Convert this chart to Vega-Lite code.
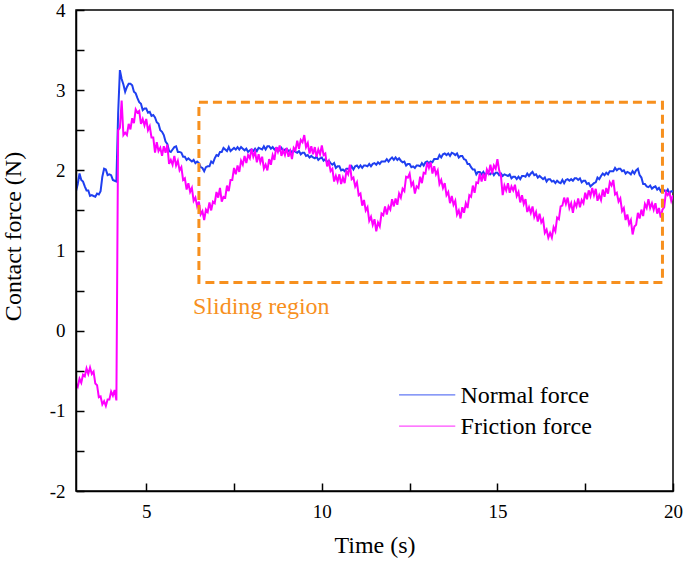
{
"$schema": "https://vega.github.io/schema/vega-lite/v6.json",
"width": 597, "height": 481,
"autosize": {"type": "none"},
"padding": {"left": 76, "top": 10, "right": 12, "bottom": 73},
"background": "white",
"config": {"view": {"stroke": "black", "strokeWidth": 1.5}, "font": "Liberation Serif", "text": {"font": "Liberation Serif"}},
"data": {"values": [
{"t":3.00,"Normal force":1.74,"Friction force":-0.66},
{"t":3.05,"Normal force":1.83,"Friction force":-0.70},
{"t":3.10,"Normal force":1.96,"Friction force":-0.60},
{"t":3.15,"Normal force":1.88,"Friction force":-0.65},
{"t":3.20,"Normal force":1.86,"Friction force":-0.55},
{"t":3.25,"Normal force":1.80,"Friction force":-0.57},
{"t":3.30,"Normal force":1.75,"Friction force":-0.47},
{"t":3.35,"Normal force":1.75,"Friction force":-0.54},
{"t":3.40,"Normal force":1.68,"Friction force":-0.46},
{"t":3.45,"Normal force":1.69,"Friction force":-0.54},
{"t":3.50,"Normal force":1.68,"Friction force":-0.51},
{"t":3.55,"Normal force":1.67,"Friction force":-0.66},
{"t":3.60,"Normal force":1.71,"Friction force":-0.68},
{"t":3.65,"Normal force":1.70,"Friction force":-0.83},
{"t":3.70,"Normal force":1.74,"Friction force":-0.82},
{"t":3.75,"Normal force":1.92,"Friction force":-0.92},
{"t":3.80,"Normal force":2.02,"Friction force":-0.88},
{"t":3.85,"Normal force":2.01,"Friction force":-0.94},
{"t":3.90,"Normal force":1.94,"Friction force":-0.86},
{"t":3.95,"Normal force":1.95,"Friction force":-0.86},
{"t":4.00,"Normal force":1.94,"Friction force":-0.76},
{"t":4.05,"Normal force":1.88,"Friction force":-0.81},
{"t":4.10,"Normal force":1.87,"Friction force":-0.74},
{"t":4.15,"Normal force":1.86,"Friction force":-0.87},
{"t":4.20,"Normal force":2.71,"Friction force":2.50},
{"t":4.25,"Normal force":3.25,"Friction force":2.53},
{"t":4.30,"Normal force":3.14,"Friction force":2.87},
{"t":4.35,"Normal force":3.07,"Friction force":2.44},
{"t":4.40,"Normal force":2.98,"Friction force":2.47},
{"t":4.45,"Normal force":3.04,"Friction force":2.44},
{"t":4.50,"Normal force":3.08,"Friction force":2.58},
{"t":4.55,"Normal force":3.08,"Friction force":2.51},
{"t":4.60,"Normal force":3.06,"Friction force":2.65},
{"t":4.65,"Normal force":2.98,"Friction force":2.59},
{"t":4.70,"Normal force":2.96,"Friction force":2.76},
{"t":4.75,"Normal force":2.90,"Friction force":2.72},
{"t":4.80,"Normal force":2.85,"Friction force":2.74},
{"t":4.85,"Normal force":2.83,"Friction force":2.58},
{"t":4.90,"Normal force":2.75,"Friction force":2.64},
{"t":4.95,"Normal force":2.77,"Friction force":2.56},
{"t":5.00,"Normal force":2.77,"Friction force":2.64},
{"t":5.05,"Normal force":2.72,"Friction force":2.50},
{"t":5.10,"Normal force":2.73,"Friction force":2.55},
{"t":5.15,"Normal force":2.68,"Friction force":2.41},
{"t":5.20,"Normal force":2.69,"Friction force":2.41},
{"t":5.25,"Normal force":2.66,"Friction force":2.22},
{"t":5.30,"Normal force":2.60,"Friction force":2.35},
{"t":5.35,"Normal force":2.58,"Friction force":2.24},
{"t":5.40,"Normal force":2.50,"Friction force":2.28},
{"t":5.45,"Normal force":2.48,"Friction force":2.18},
{"t":5.50,"Normal force":2.44,"Friction force":2.30},
{"t":5.55,"Normal force":2.36,"Friction force":2.22},
{"t":5.60,"Normal force":2.33,"Friction force":2.32},
{"t":5.65,"Normal force":2.24,"Friction force":2.08},
{"t":5.70,"Normal force":2.23,"Friction force":2.13},
{"t":5.75,"Normal force":2.26,"Friction force":2.07},
{"t":5.80,"Normal force":2.29,"Friction force":2.18},
{"t":5.85,"Normal force":2.30,"Friction force":2.06},
{"t":5.90,"Normal force":2.23,"Friction force":2.12},
{"t":5.95,"Normal force":2.23,"Friction force":2.00},
{"t":6.00,"Normal force":2.22,"Friction force":2.04},
{"t":6.05,"Normal force":2.17,"Friction force":1.88},
{"t":6.10,"Normal force":2.17,"Friction force":1.90},
{"t":6.15,"Normal force":2.13,"Friction force":1.76},
{"t":6.20,"Normal force":2.15,"Friction force":1.84},
{"t":6.25,"Normal force":2.13,"Friction force":1.73},
{"t":6.30,"Normal force":2.11,"Friction force":1.78},
{"t":6.35,"Normal force":2.13,"Friction force":1.62},
{"t":6.40,"Normal force":2.09,"Friction force":1.66},
{"t":6.45,"Normal force":2.11,"Friction force":1.55},
{"t":6.50,"Normal force":2.09,"Friction force":1.61},
{"t":6.55,"Normal force":2.04,"Friction force":1.45},
{"t":6.60,"Normal force":2.03,"Friction force":1.49},
{"t":6.65,"Normal force":1.99,"Friction force":1.38},
{"t":6.70,"Normal force":2.04,"Friction force":1.51},
{"t":6.75,"Normal force":2.05,"Friction force":1.48},
{"t":6.80,"Normal force":2.05,"Friction force":1.60},
{"t":6.85,"Normal force":2.11,"Friction force":1.50},
{"t":6.90,"Normal force":2.09,"Friction force":1.61},
{"t":6.95,"Normal force":2.15,"Friction force":1.59},
{"t":7.00,"Normal force":2.19,"Friction force":1.73},
{"t":7.05,"Normal force":2.18,"Friction force":1.66},
{"t":7.10,"Normal force":2.23,"Friction force":1.78},
{"t":7.15,"Normal force":2.23,"Friction force":1.61},
{"t":7.20,"Normal force":2.28,"Friction force":1.67},
{"t":7.25,"Normal force":2.26,"Friction force":1.66},
{"t":7.30,"Normal force":2.24,"Friction force":1.81},
{"t":7.35,"Normal force":2.29,"Friction force":1.74},
{"t":7.40,"Normal force":2.24,"Friction force":1.88},
{"t":7.45,"Normal force":2.26,"Friction force":1.88},
{"t":7.50,"Normal force":2.28,"Friction force":2.03},
{"t":7.55,"Normal force":2.26,"Friction force":1.95},
{"t":7.60,"Normal force":2.29,"Friction force":2.06},
{"t":7.65,"Normal force":2.26,"Friction force":1.98},
{"t":7.70,"Normal force":2.29,"Friction force":2.12},
{"t":7.75,"Normal force":2.27,"Friction force":2.07},
{"t":7.80,"Normal force":2.25,"Friction force":2.18},
{"t":7.85,"Normal force":2.27,"Friction force":2.09},
{"t":7.90,"Normal force":2.23,"Friction force":2.19},
{"t":7.95,"Normal force":2.25,"Friction force":2.15},
{"t":8.00,"Normal force":2.26,"Friction force":2.27},
{"t":8.05,"Normal force":2.24,"Friction force":2.17},
{"t":8.10,"Normal force":2.27,"Friction force":2.23},
{"t":8.15,"Normal force":2.24,"Friction force":2.10},
{"t":8.20,"Normal force":2.28,"Friction force":2.20},
{"t":8.25,"Normal force":2.27,"Friction force":2.10},
{"t":8.30,"Normal force":2.26,"Friction force":2.17},
{"t":8.35,"Normal force":2.30,"Friction force":2.02},
{"t":8.40,"Normal force":2.26,"Friction force":2.07},
{"t":8.45,"Normal force":2.30,"Friction force":2.00},
{"t":8.50,"Normal force":2.30,"Friction force":2.14},
{"t":8.55,"Normal force":2.27,"Friction force":2.07},
{"t":8.60,"Normal force":2.29,"Friction force":2.19},
{"t":8.65,"Normal force":2.26,"Friction force":2.13},
{"t":8.70,"Normal force":2.28,"Friction force":2.29},
{"t":8.75,"Normal force":2.27,"Friction force":2.23},
{"t":8.80,"Normal force":2.25,"Friction force":2.31},
{"t":8.85,"Normal force":2.28,"Friction force":2.18},
{"t":8.90,"Normal force":2.24,"Friction force":2.25},
{"t":8.95,"Normal force":2.26,"Friction force":2.19},
{"t":9.00,"Normal force":2.27,"Friction force":2.28},
{"t":9.05,"Normal force":2.24,"Friction force":2.17},
{"t":9.10,"Normal force":2.25,"Friction force":2.24},
{"t":9.15,"Normal force":2.22,"Friction force":2.14},
{"t":9.20,"Normal force":2.25,"Friction force":2.28},
{"t":9.25,"Normal force":2.23,"Friction force":2.25},
{"t":9.30,"Normal force":2.22,"Friction force":2.37},
{"t":9.35,"Normal force":2.24,"Friction force":2.27},
{"t":9.40,"Normal force":2.20,"Friction force":2.38},
{"t":9.45,"Normal force":2.22,"Friction force":2.35},
{"t":9.50,"Normal force":2.22,"Friction force":2.44},
{"t":9.55,"Normal force":2.18,"Friction force":2.29},
{"t":9.60,"Normal force":2.19,"Friction force":2.34},
{"t":9.65,"Normal force":2.16,"Friction force":2.21},
{"t":9.70,"Normal force":2.18,"Friction force":2.30},
{"t":9.75,"Normal force":2.16,"Friction force":2.20},
{"t":9.80,"Normal force":2.15,"Friction force":2.29},
{"t":9.85,"Normal force":2.17,"Friction force":2.17},
{"t":9.90,"Normal force":2.13,"Friction force":2.26},
{"t":9.95,"Normal force":2.15,"Friction force":2.20},
{"t":10.00,"Normal force":2.16,"Friction force":2.31},
{"t":10.05,"Normal force":2.12,"Friction force":2.19},
{"t":10.10,"Normal force":2.14,"Friction force":2.21},
{"t":10.15,"Normal force":2.10,"Friction force":2.05},
{"t":10.20,"Normal force":2.12,"Friction force":2.11},
{"t":10.25,"Normal force":2.09,"Friction force":1.99},
{"t":10.30,"Normal force":2.07,"Friction force":2.02},
{"t":10.35,"Normal force":2.09,"Friction force":1.86},
{"t":10.40,"Normal force":2.03,"Friction force":1.93},
{"t":10.45,"Normal force":2.05,"Friction force":1.86},
{"t":10.50,"Normal force":2.05,"Friction force":1.95},
{"t":10.55,"Normal force":2.00,"Friction force":1.83},
{"t":10.60,"Normal force":2.01,"Friction force":1.91},
{"t":10.65,"Normal force":1.99,"Friction force":1.84},
{"t":10.70,"Normal force":2.02,"Friction force":1.99},
{"t":10.75,"Normal force":2.02,"Friction force":1.95},
{"t":10.80,"Normal force":2.01,"Friction force":2.07},
{"t":10.85,"Normal force":2.05,"Friction force":1.89},
{"t":10.90,"Normal force":2.01,"Friction force":1.91},
{"t":10.95,"Normal force":2.05,"Friction force":1.80},
{"t":11.00,"Normal force":2.06,"Friction force":1.85},
{"t":11.05,"Normal force":2.03,"Friction force":1.69},
{"t":11.10,"Normal force":2.06,"Friction force":1.71},
{"t":11.15,"Normal force":2.03,"Friction force":1.56},
{"t":11.20,"Normal force":2.06,"Friction force":1.63},
{"t":11.25,"Normal force":2.06,"Friction force":1.50},
{"t":11.30,"Normal force":2.05,"Friction force":1.54},
{"t":11.35,"Normal force":2.08,"Friction force":1.37},
{"t":11.40,"Normal force":2.05,"Friction force":1.42},
{"t":11.45,"Normal force":2.08,"Friction force":1.32},
{"t":11.50,"Normal force":2.09,"Friction force":1.39},
{"t":11.55,"Normal force":2.07,"Friction force":1.24},
{"t":11.60,"Normal force":2.10,"Friction force":1.35},
{"t":11.65,"Normal force":2.08,"Friction force":1.30},
{"t":11.70,"Normal force":2.11,"Friction force":1.46},
{"t":11.75,"Normal force":2.11,"Friction force":1.44},
{"t":11.80,"Normal force":2.11,"Friction force":1.55},
{"t":11.85,"Normal force":2.14,"Friction force":1.45},
{"t":11.90,"Normal force":2.11,"Friction force":1.55},
{"t":11.95,"Normal force":2.14,"Friction force":1.51},
{"t":12.00,"Normal force":2.16,"Friction force":1.64},
{"t":12.05,"Normal force":2.13,"Friction force":1.55},
{"t":12.10,"Normal force":2.16,"Friction force":1.65},
{"t":12.15,"Normal force":2.13,"Friction force":1.57},
{"t":12.20,"Normal force":2.15,"Friction force":1.71},
{"t":12.25,"Normal force":2.12,"Friction force":1.66},
{"t":12.30,"Normal force":2.10,"Friction force":1.77},
{"t":12.35,"Normal force":2.11,"Friction force":1.74},
{"t":12.40,"Normal force":2.06,"Friction force":1.92},
{"t":12.45,"Normal force":2.08,"Friction force":1.91},
{"t":12.50,"Normal force":2.08,"Friction force":1.96},
{"t":12.55,"Normal force":2.04,"Friction force":1.81},
{"t":12.60,"Normal force":2.05,"Friction force":1.85},
{"t":12.65,"Normal force":2.03,"Friction force":1.71},
{"t":12.70,"Normal force":2.06,"Friction force":1.80},
{"t":12.75,"Normal force":2.06,"Friction force":1.78},
{"t":12.80,"Normal force":2.05,"Friction force":1.92},
{"t":12.85,"Normal force":2.09,"Friction force":1.84},
{"t":12.90,"Normal force":2.06,"Friction force":1.97},
{"t":12.95,"Normal force":2.10,"Friction force":1.96},
{"t":13.00,"Normal force":2.11,"Friction force":2.10},
{"t":13.05,"Normal force":2.09,"Friction force":2.03},
{"t":13.10,"Normal force":2.11,"Friction force":2.10},
{"t":13.15,"Normal force":2.10,"Friction force":1.96},
{"t":13.20,"Normal force":2.14,"Friction force":2.05},
{"t":13.25,"Normal force":2.14,"Friction force":1.95},
{"t":13.30,"Normal force":2.14,"Friction force":2.00},
{"t":13.35,"Normal force":2.19,"Friction force":1.83},
{"t":13.40,"Normal force":2.16,"Friction force":1.88},
{"t":13.45,"Normal force":2.20,"Friction force":1.78},
{"t":13.50,"Normal force":2.21,"Friction force":1.84},
{"t":13.55,"Normal force":2.19,"Friction force":1.69},
{"t":13.60,"Normal force":2.21,"Friction force":1.73},
{"t":13.65,"Normal force":2.18,"Friction force":1.59},
{"t":13.70,"Normal force":2.22,"Friction force":1.68},
{"t":13.75,"Normal force":2.21,"Friction force":1.57},
{"t":13.80,"Normal force":2.19,"Friction force":1.62},
{"t":13.85,"Normal force":2.21,"Friction force":1.45},
{"t":13.90,"Normal force":2.16,"Friction force":1.50},
{"t":13.95,"Normal force":2.18,"Friction force":1.40},
{"t":14.00,"Normal force":2.18,"Friction force":1.54},
{"t":14.05,"Normal force":2.14,"Friction force":1.47},
{"t":14.10,"Normal force":2.13,"Friction force":1.59},
{"t":14.15,"Normal force":2.08,"Friction force":1.53},
{"t":14.20,"Normal force":2.08,"Friction force":1.69},
{"t":14.25,"Normal force":2.04,"Friction force":1.67},
{"t":14.30,"Normal force":2.01,"Friction force":1.81},
{"t":14.35,"Normal force":2.01,"Friction force":1.72},
{"t":14.40,"Normal force":1.95,"Friction force":1.85},
{"t":14.45,"Normal force":1.98,"Friction force":1.84},
{"t":14.50,"Normal force":1.98,"Friction force":1.96},
{"t":14.55,"Normal force":1.95,"Friction force":1.86},
{"t":14.60,"Normal force":1.98,"Friction force":1.96},
{"t":14.65,"Normal force":1.94,"Friction force":1.87},
{"t":14.70,"Normal force":1.97,"Friction force":2.01},
{"t":14.75,"Normal force":1.96,"Friction force":1.96},
{"t":14.80,"Normal force":1.95,"Friction force":2.07},
{"t":14.85,"Normal force":1.98,"Friction force":1.96},
{"t":14.90,"Normal force":1.94,"Friction force":2.06},
{"t":14.95,"Normal force":1.97,"Friction force":2.02},
{"t":15.00,"Normal force":1.97,"Friction force":2.14},
{"t":15.05,"Normal force":1.94,"Friction force":2.00},
{"t":15.10,"Normal force":1.96,"Friction force":1.93},
{"t":15.15,"Normal force":1.93,"Friction force":1.69},
{"t":15.20,"Normal force":1.95,"Friction force":1.81},
{"t":15.25,"Normal force":1.94,"Friction force":1.75},
{"t":15.30,"Normal force":1.93,"Friction force":1.84},
{"t":15.35,"Normal force":1.95,"Friction force":1.72},
{"t":15.40,"Normal force":1.90,"Friction force":1.80},
{"t":15.45,"Normal force":1.92,"Friction force":1.75},
{"t":15.50,"Normal force":1.92,"Friction force":1.82},
{"t":15.55,"Normal force":1.89,"Friction force":1.68},
{"t":15.60,"Normal force":1.92,"Friction force":1.73},
{"t":15.65,"Normal force":1.89,"Friction force":1.60},
{"t":15.70,"Normal force":1.93,"Friction force":1.69},
{"t":15.75,"Normal force":1.93,"Friction force":1.58},
{"t":15.80,"Normal force":1.92,"Friction force":1.64},
{"t":15.85,"Normal force":1.96,"Friction force":1.48},
{"t":15.90,"Normal force":1.93,"Friction force":1.54},
{"t":15.95,"Normal force":1.96,"Friction force":1.47},
{"t":16.00,"Normal force":1.98,"Friction force":1.55},
{"t":16.05,"Normal force":1.94,"Friction force":1.42},
{"t":16.10,"Normal force":1.95,"Friction force":1.48},
{"t":16.15,"Normal force":1.91,"Friction force":1.36},
{"t":16.20,"Normal force":1.93,"Friction force":1.46},
{"t":16.25,"Normal force":1.91,"Friction force":1.35},
{"t":16.30,"Normal force":1.89,"Friction force":1.39},
{"t":16.35,"Normal force":1.91,"Friction force":1.22},
{"t":16.40,"Normal force":1.86,"Friction force":1.26},
{"t":16.45,"Normal force":1.89,"Friction force":1.16},
{"t":16.50,"Normal force":1.89,"Friction force":1.22},
{"t":16.55,"Normal force":1.86,"Friction force":1.16},
{"t":16.60,"Normal force":1.87,"Friction force":1.29},
{"t":16.65,"Normal force":1.84,"Friction force":1.24},
{"t":16.70,"Normal force":1.87,"Friction force":1.41},
{"t":16.75,"Normal force":1.85,"Friction force":1.39},
{"t":16.80,"Normal force":1.84,"Friction force":1.55},
{"t":16.85,"Normal force":1.88,"Friction force":1.56},
{"t":16.90,"Normal force":1.84,"Friction force":1.66},
{"t":16.95,"Normal force":1.88,"Friction force":1.58},
{"t":17.00,"Normal force":1.89,"Friction force":1.66},
{"t":17.05,"Normal force":1.87,"Friction force":1.53},
{"t":17.10,"Normal force":1.89,"Friction force":1.59},
{"t":17.15,"Normal force":1.87,"Friction force":1.47},
{"t":17.20,"Normal force":1.90,"Friction force":1.60},
{"t":17.25,"Normal force":1.90,"Friction force":1.55},
{"t":17.30,"Normal force":1.88,"Friction force":1.65},
{"t":17.35,"Normal force":1.90,"Friction force":1.54},
{"t":17.40,"Normal force":1.85,"Friction force":1.63},
{"t":17.45,"Normal force":1.87,"Friction force":1.59},
{"t":17.50,"Normal force":1.87,"Friction force":1.72},
{"t":17.55,"Normal force":1.83,"Friction force":1.64},
{"t":17.60,"Normal force":1.84,"Friction force":1.75},
{"t":17.65,"Normal force":1.80,"Friction force":1.68},
{"t":17.70,"Normal force":1.82,"Friction force":1.78},
{"t":17.75,"Normal force":1.84,"Friction force":1.69},
{"t":17.80,"Normal force":1.85,"Friction force":1.77},
{"t":17.85,"Normal force":1.91,"Friction force":1.62},
{"t":17.90,"Normal force":1.89,"Friction force":1.69},
{"t":17.95,"Normal force":1.93,"Friction force":1.63},
{"t":18.00,"Normal force":1.96,"Friction force":1.76},
{"t":18.05,"Normal force":1.94,"Friction force":1.67},
{"t":18.10,"Normal force":1.97,"Friction force":1.78},
{"t":18.15,"Normal force":1.95,"Friction force":1.71},
{"t":18.20,"Normal force":1.99,"Friction force":1.85},
{"t":18.25,"Normal force":1.99,"Friction force":1.81},
{"t":18.30,"Normal force":1.99,"Friction force":1.88},
{"t":18.35,"Normal force":2.03,"Friction force":1.70},
{"t":18.40,"Normal force":2.00,"Friction force":1.72},
{"t":18.45,"Normal force":2.02,"Friction force":1.61},
{"t":18.50,"Normal force":2.02,"Friction force":1.65},
{"t":18.55,"Normal force":1.99,"Friction force":1.49},
{"t":18.60,"Normal force":2.00,"Friction force":1.53},
{"t":18.65,"Normal force":1.96,"Friction force":1.38},
{"t":18.70,"Normal force":1.98,"Friction force":1.45},
{"t":18.75,"Normal force":1.97,"Friction force":1.33},
{"t":18.80,"Normal force":1.95,"Friction force":1.38},
{"t":18.85,"Normal force":1.99,"Friction force":1.20},
{"t":18.90,"Normal force":1.96,"Friction force":1.30},
{"t":18.95,"Normal force":2.00,"Friction force":1.32},
{"t":19.00,"Normal force":2.02,"Friction force":1.47},
{"t":19.05,"Normal force":1.94,"Friction force":1.40},
{"t":19.10,"Normal force":1.91,"Friction force":1.51},
{"t":19.15,"Normal force":1.83,"Friction force":1.43},
{"t":19.20,"Normal force":1.83,"Friction force":1.58},
{"t":19.25,"Normal force":1.80,"Friction force":1.53},
{"t":19.30,"Normal force":1.79,"Friction force":1.64},
{"t":19.35,"Normal force":1.81,"Friction force":1.53},
{"t":19.40,"Normal force":1.77,"Friction force":1.59},
{"t":19.45,"Normal force":1.79,"Friction force":1.51},
{"t":19.50,"Normal force":1.80,"Friction force":1.59},
{"t":19.55,"Normal force":1.76,"Friction force":1.46},
{"t":19.60,"Normal force":1.78,"Friction force":1.53},
{"t":19.65,"Normal force":1.74,"Friction force":1.41},
{"t":19.70,"Normal force":1.77,"Friction force":1.51},
{"t":19.75,"Normal force":1.75,"Friction force":1.54},
{"t":19.80,"Normal force":1.73,"Friction force":1.73},
{"t":19.85,"Normal force":1.76,"Friction force":1.69},
{"t":19.90,"Normal force":1.71,"Friction force":1.72},
{"t":19.95,"Normal force":1.74,"Friction force":1.62},
{"t":20.00,"Normal force":1.74,"Friction force":1.69}
]},
"layer": [
{
"transform": [{"fold": ["Normal force", "Friction force"], "as": ["series", "value"]}],
"mark": {"type": "line", "strokeWidth": 2, "clip": true},
"encoding": {
"x": {"field": "t", "type": "quantitative",
 "scale": {"domain": [3, 20], "nice": false, "zero": false},
 "axis": {"title": "Time (s)", "values": [5, 7.5, 10, 12.5, 15, 17.5, 20],
  "labelExpr": "datum.value % 5 === 0 ? '' + datum.value : ''",
  "ticks": true, "tickSize": -8, "zindex": 1,
  "tickWidth": 1.5, "tickColor": "black", "domainColor": "black", "domainWidth": 1.5, "grid": false,
  "labelFont": "Liberation Serif", "labelFontSize": 19, "labelColor": "black", "labelPadding": 19,
  "labelFlush": false, "labelOverlap": false,
  "titleFont": "Liberation Serif", "titleFontSize": 24, "titleFontWeight": "normal", "titleColor": "black",
  "titleX": 298.5, "titleY": 61, "titleBaseline": "alphabetic", "titleAlign": "center"}},
"y": {"field": "value", "type": "quantitative",
 "scale": {"domain": [-2, 4], "nice": false, "zero": false},
 "axis": {"title": "Contact force (N)", "values": [-2, -1.5, -1, -0.5, 0, 0.5, 1, 1.5, 2, 2.5, 3, 3.5, 4],
  "labelExpr": "datum.value % 1 === 0 ? '' + datum.value : ''",
  "ticks": true, "tickSize": -8, "zindex": 1,
  "tickWidth": 1.5, "tickColor": "black", "domainColor": "black", "domainWidth": 1.5, "grid": false,
  "labelFont": "Liberation Serif", "labelFontSize": 19, "labelColor": "black", "labelPadding": 19,
  "labelFlush": false, "labelOverlap": false,
  "titleFont": "Liberation Serif", "titleFontSize": 24, "titleFontWeight": "normal", "titleColor": "black",
  "titleX": -63, "titleY": 226, "titleAngle": -90, "titleBaseline": "middle", "titleAlign": "center"}},
"color": {"field": "series", "type": "nominal",
 "scale": {"domain": ["Normal force", "Friction force"], "range": ["#1f3ff0", "#ff00ff"]},
 "legend": null}
}
},
{
"data": {"values": [{"x1": 6.5, "x2": 19.7, "y1": 2.85, "y2": 0.6}]},
"mark": {"type": "rect", "filled": false, "stroke": "#f7901e", "strokeWidth": 3, "strokeDash": [9, 5]},
"encoding": {"x": {"field": "x1", "type": "quantitative"}, "x2": {"field": "x2"}, "y": {"field": "y1", "type": "quantitative"}, "y2": {"field": "y2"}}
},
{
"data": {"values": [{"x": 6.33, "y": 0.21, "label": "Sliding region"}]},
"mark": {"type": "text", "align": "left", "baseline": "alphabetic", "fontSize": 24, "font": "Liberation Serif", "fill": "#f7901e"},
"encoding": {"x": {"field": "x", "type": "quantitative"}, "y": {"field": "y", "type": "quantitative"}, "text": {"field": "label"}}
},
{
"data": {"values": [{"series": "Normal force", "x1": 12.2, "x2": 13.8, "y": -0.8}, {"series": "Friction force", "x1": 12.2, "x2": 13.8, "y": -1.19}]},
"mark": {"type": "rule", "strokeWidth": 1.3},
"encoding": {"x": {"field": "x1", "type": "quantitative"}, "x2": {"field": "x2"}, "y": {"field": "y", "type": "quantitative"},
 "color": {"field": "series", "type": "nominal", "scale": {"domain": ["Normal force", "Friction force"], "range": ["#1f3ff0", "#ff00ff"]}, "legend": null},
 "opacity": {"value": 0.7}}
},
{
"data": {"values": [{"series": "Normal force", "x": 13.95, "y": -0.8}, {"series": "Friction force", "x": 13.95, "y": -1.19}]},
"mark": {"type": "text", "align": "left", "baseline": "middle", "fontSize": 24, "font": "Liberation Serif", "fill": "black", "dy": 1},
"encoding": {"x": {"field": "x", "type": "quantitative"}, "y": {"field": "y", "type": "quantitative"}, "text": {"field": "series"}}
}
]
}
